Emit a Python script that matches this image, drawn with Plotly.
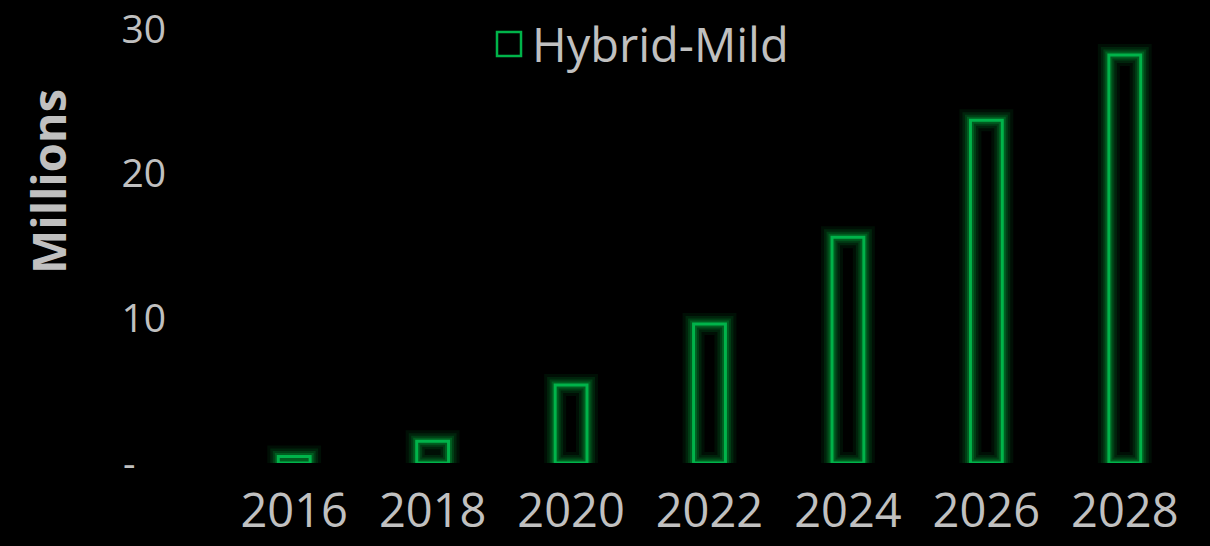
import plotly.graph_objects as go

years = ["2016", "2018", "2020", "2022", "2024", "2026", "2028"]
hybrid_mild = [0.45, 1.5, 5.4, 9.6, 15.6, 23.7, 28.2]
y_tickvals = [0, 10, 20, 30]
y_ticktext = ["-\u00a0\u00a0\u00a0", "10", "20", "30"]
series_name = "Hybrid-Mild"

GREEN = "#00b34a"
TEXT = "#c0c0c0"
FONT = "Open Sans"

PW = 1210 - 225 - 16   # plot width in px
PH = 546 - 29 - 83     # plot height in px

fig = go.Figure()

# glow layers
for w, c in [(22, "rgba(0,170,60,0.09)"), (16, "rgba(0,170,60,0.14)"),
             (11, "rgba(0,170,60,0.20)"), (7, "rgba(0,170,60,0.30)")]:
    fig.add_trace(go.Bar(
        x=years, y=hybrid_mild, width=0.23,
        marker=dict(color="rgba(0,0,0,0)", line=dict(color=c, width=w)),
        showlegend=False, hoverinfo="skip", cliponaxis=False))

fig.add_trace(go.Bar(
    x=years, y=hybrid_mild, width=0.23, name=series_name,
    marker=dict(color="rgba(0,0,0,0)", line=dict(color=GREEN, width=3)),
    showlegend=False, cliponaxis=False))

fig.update_layout(
    width=1210, height=546,
    paper_bgcolor="black", plot_bgcolor="black",
    margin=dict(l=225, r=16, t=29, b=83),
    barmode="overlay",
    font=dict(family=FONT, color=TEXT),
    xaxis=dict(type="category", showgrid=False, zeroline=False, showline=False,
               ticks="", tickfont=dict(size=47, color=TEXT, family=FONT),
               ticklabelstandoff=16, automargin=False,
               ticklabeloverflow="allow"),
    yaxis=dict(range=[0, 30.001], showgrid=False, zeroline=False, showline=False,
               ticks="", tickvals=y_tickvals, ticktext=y_ticktext,
               tickfont=dict(size=39, color=TEXT, family=FONT),
               ticklabelstandoff=58, automargin=False,
               ticklabeloverflow="allow"),
    showlegend=False,
)

# legend substitute
fig.add_shape(type="rect", xref="paper", yref="paper",
              x0=(497 - 225) / PW, x1=(521 - 225) / PW,
              y0=(463 - 56) / PH, y1=(463 - 32) / PH,
              line=dict(color=GREEN, width=2.5), fillcolor="rgba(0,0,0,0)")
fig.add_annotation(text=series_name, xref="paper", yref="paper",
                   x=(530 - 225) / PW, y=(463 - 44) / PH,
                   xanchor="left", yanchor="middle", showarrow=False,
                   font=dict(size=47, color=TEXT, family=FONT))

# y-axis title
fig.add_annotation(text="<b>Millions</b>", xref="paper", yref="paper",
                   x=(48 - 225) / PW, y=(463 - 182) / PH,
                   xanchor="center", yanchor="middle", textangle=-90,
                   showarrow=False, font=dict(size=47, color=TEXT, family=FONT))

fig.write_html("out.html")
